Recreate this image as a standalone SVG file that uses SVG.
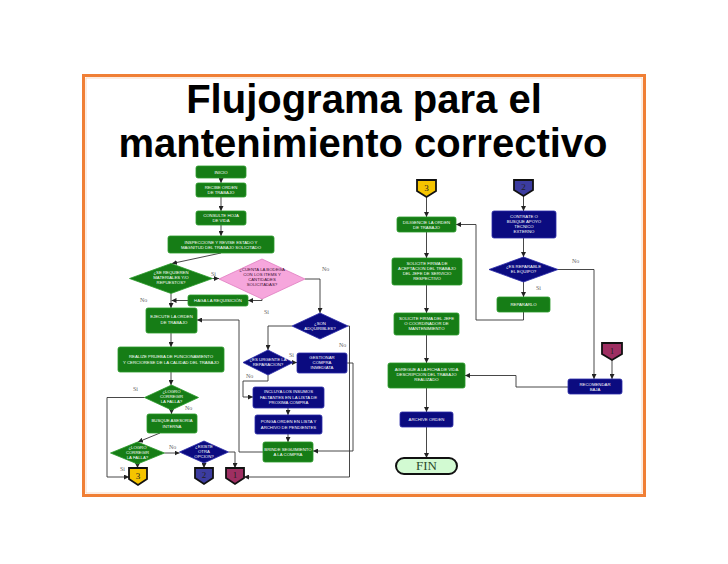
<svg xmlns="http://www.w3.org/2000/svg" width="728" height="564" viewBox="0 0 728 564">
<defs>
<marker id="ah" markerUnits="userSpaceOnUse" markerWidth="5" markerHeight="5" viewBox="0 0 10 10" refX="10" refY="5" orient="auto">
<path d="M0,0 L10,5 L0,10 z" fill="#222"/>
</marker>
<style>
.t{font-family:"Liberation Sans",Arial,sans-serif;font-size:4.3px;fill:#fff;text-anchor:middle}
.td{font-family:"Liberation Sans",Arial,sans-serif;font-size:4.3px;fill:#3a1030;text-anchor:middle}
.g{fill:#167d16;stroke:#2a9a2a;stroke-width:0.8}
.n{fill:#0b0b80;stroke:#2b2ba8;stroke-width:0.8}
.p{fill:#f6a6dc;stroke:#e07cc0;stroke-width:0.8}
.e{fill:none;stroke:#333;stroke-width:0.9;marker-end:url(#ah)}
.l{fill:none;stroke:#333;stroke-width:0.9}
.lb{font-family:"Liberation Serif","Times New Roman",serif;font-size:6px;fill:#666}
.cn{stroke:#111;stroke-width:1.8}
.ct{font-family:"Liberation Serif","Times New Roman",serif;font-size:9px;text-anchor:middle;fill:#222}
.title{font-family:"Liberation Sans",Arial,sans-serif;font-size:40px;font-weight:bold;fill:#000;text-anchor:middle}
</style>
</defs>
<rect width="728" height="564" fill="#fff"/>
<rect x="83.5" y="75.5" width="561" height="420" fill="#fff" stroke="#f07f35" stroke-width="3"/>
<rect x="86" y="78" width="556" height="415" fill="none" stroke="#f6c09a" stroke-width="0.6"/>
<text class="title" x="364" y="113">Flujograma para el</text>
<text class="title" x="363" y="157">mantenimiento correctivo</text>

<g id="connectors">
<path class="e" d="M221,178 V183"/>
<path class="e" d="M221,197 V211"/>
<path class="e" d="M221,225 V236"/>
<path class="e" d="M221,253 L172,263.5"/>
<path class="e" d="M212.5,278.5 H219"/>
<path class="e" d="M305,279 H320 V313"/>
<path class="e" d="M262,299 V300.5 H248"/>
<path class="e" d="M188,300.5 H171.5"/>
<path class="e" d="M171,293.5 V308"/>
<path class="e" d="M171,333 V347"/>
<path class="e" d="M171,372 V385"/>
<path class="e" d="M144.5,397.5 H107 V477 H129"/>
<path class="e" d="M171.5,410 V414"/>
<path class="e" d="M160,433 L138,442"/>
<path class="e" d="M164.5,453 H179.5"/>
<path class="e" d="M137.5,464 V468"/>
<path class="e" d="M204,463 V468"/>
<path class="e" d="M228.5,452 H235 V468"/>
<path class="e" d="M263,452 H239 V320 H197"/>
<path class="e" d="M292,326 H268 V350"/>
<path class="e" d="M293,362.5 H297"/>
<path class="e" d="M268,375 V381 H243 V397 H253"/>
<path class="e" d="M288,408 V415"/>
<path class="e" d="M288,434 V442"/>
<path class="e" d="M347,363 H353 V451 H313"/>
<path class="e" d="M348,326 H349.5 V477 H244"/>
<path class="e" d="M426.5,197 V217"/>
<path class="e" d="M426.5,232 V258"/>
<path class="e" d="M426.5,285 V313"/>
<path class="e" d="M426.5,335 V363"/>
<path class="e" d="M426.5,388 V412"/>
<path class="e" d="M426.5,427 V458"/>
<path class="e" d="M523.5,196 V211"/>
<path class="e" d="M523.5,238 V257"/>
<path class="e" d="M523.5,282 V297"/>
<path class="e" d="M558,269.5 H594 V379"/>
<path class="e" d="M523.5,312 V320 H476 V224.5 H456"/>
<path class="e" d="M612,360 V379"/>
<path class="e" d="M568,387 H516 V375.5 H465"/>
<text class="lb" x="211" y="276">Si</text>
<text class="lb" x="322" y="271">No</text>
<text class="lb" x="264" y="314">Si</text>
<text class="lb" x="140" y="302">No</text>
<text class="lb" x="133" y="391">Si</text>
<text class="lb" x="185" y="410">No</text>
<text class="lb" x="169" y="449">No</text>
<text class="lb" x="120" y="471">Si</text>
<text class="lb" x="289" y="357">Si</text>
<text class="lb" x="246" y="378">No</text>
<text class="lb" x="339" y="347">No</text>
<text class="lb" x="536" y="290">Si</text>
<text class="lb" x="572" y="263">No</text>
</g>

<g id="inicio"><rect class="g" x="196" y="166" width="50" height="12" rx="2"/><text class="t" x="221" y="173.5">INICIO</text></g>
<g id="recibe"><rect class="g" x="196" y="183" width="50" height="14" rx="2"/><text class="t" x="221" y="189">RECIBE ORDEN</text><text class="t" x="221" y="194">DE TRABAJO</text></g>
<g id="consulte"><rect class="g" x="196" y="211" width="50" height="14" rx="2"/><text class="t" x="221" y="217">CONSULTE HOJA</text><text class="t" x="221" y="222">DE VIDA</text></g>
<g id="inspeccione"><rect class="g" x="168" y="236" width="106" height="17" rx="2"/><text class="t" x="221" y="243.5">INSPECCIONE Y REVISE ESTADO Y</text><text class="t" x="221" y="248.5">MAGNITUD DEL TRABAJO SOLICITADO</text></g>
<g id="requieren"><polygon class="g" points="129.5,278.5 171,263.5 212.5,278.5 171,293.5"/><text class="t" x="171" y="274">¿SE REQUIEREN</text><text class="t" x="171" y="279">MATERIALES Y/O</text><text class="t" x="171" y="284">REPUESTOS?</text></g>
<g id="bodega"><polygon class="p" points="219,279 262,259 305,279 262,299"/><text class="td" x="262" y="271">¿CUENTA LA BODEGA</text><text class="td" x="262" y="276">CON LOS ITEMS Y</text><text class="td" x="262" y="281">CANTIDADES</text><text class="td" x="262" y="286">SOLICITADAS?</text></g>
<g id="requisicion"><rect class="g" x="188" y="295" width="60" height="11" rx="2"/><text class="t" x="218" y="302">HAGA LA REQUISICIÓN</text></g>
<g id="ejecute"><rect class="g" x="146" y="308" width="51" height="25" rx="2"/><text class="t" x="171.5" y="318">EJECUTE LA ORDEN</text><text class="t" x="174" y="323.5">DE TRABAJO</text></g>
<g id="realize"><rect class="g" x="118" y="347" width="106" height="25" rx="2"/><text class="t" x="171" y="358">REALIZE PRUEBA DE FUNCIONAMIENTO</text><text class="t" x="171" y="363.5">Y CERCIORESE DE LA CALIDAD DEL TRABAJO</text></g>
<g id="logro1"><polygon class="g" points="144.5,397.5 171.5,385 198.5,397.5 171.5,410"/><text class="t" x="171.5" y="393">¿LOGRO</text><text class="t" x="171.5" y="398">CORREGIR</text><text class="t" x="171.5" y="403">LA FALLA?</text></g>
<g id="busque"><rect class="g" x="147" y="414" width="50" height="19" rx="2"/><text class="t" x="172" y="422">BUSQUE ASESORIA</text><text class="t" x="172" y="427.5">INTERNA</text></g>
<g id="logro2"><polygon class="g" points="110.5,453 137.5,442 164.5,453 137.5,464"/><text class="t" x="137.5" y="448.5">¿LOGRO</text><text class="t" x="137.5" y="453.5">CORREGIR</text><text class="t" x="137.5" y="458.5">LA FALLA?</text></g>
<g id="existe"><polygon class="n" points="179.5,452 204,441 228.5,452 204,463"/><text class="t" x="204" y="447.5">¿EXISTE</text><text class="t" x="204" y="452.5">OTRA</text><text class="t" x="204" y="457.5">OPCION?</text></g>
<g id="adquiribles"><polygon class="n" points="292,326 320,313 348,326 320,339"/><text class="t" x="320" y="324.5">¿SON</text><text class="t" x="320" y="329.5">ADQUIRIBLES?</text></g>
<g id="urgente"><polygon class="n" points="243,362.5 268,350 293,362.5 268,375"/><text class="t" x="268" y="361">¿ES URGENTE LA</text><text class="t" x="268" y="366">REPARACION?</text></g>
<g id="gestionar"><rect class="n" x="297" y="353" width="50" height="20" rx="2"/><text class="t" x="322" y="359">GESTIONAR</text><text class="t" x="322" y="364">COMPRA</text><text class="t" x="322" y="369">INMEDIATA</text></g>
<g id="incluya"><rect class="n" x="253" y="387" width="71" height="21" rx="2"/><text class="t" x="288.5" y="393">INCLUYA LOS INSUMOS</text><text class="t" x="288.5" y="398.5">FALTANTES EN LA LISTA DE</text><text class="t" x="288.5" y="404">PROXIMA COMPRA</text></g>
<g id="ponga"><rect class="n" x="255" y="415" width="67" height="19" rx="2"/><text class="t" x="288.5" y="423">PONGA ORDEN EN LISTA Y</text><text class="t" x="288.5" y="428.5">ARCHIVO DE PENDIENTES</text></g>
<g id="brinde"><rect class="g" x="263" y="442" width="50" height="20" rx="2"/><text class="t" x="288" y="450.5">BRINDE SEGUIMIENTO</text><text class="t" x="288" y="456">A LA COMPRA</text></g>
<g id="c3a"><path class="cn" fill="#f5c400" d="M129,468 H147 V479 L138,485 L129,479 Z"/><text class="ct" x="138" y="479">3</text></g>
<g id="c2a"><path class="cn" fill="#3c3ca0" d="M195,468 H213 V478 L204,484 L195,478 Z"/><text class="ct" x="204" y="478">2</text></g>
<g id="c1a"><path class="cn" fill="#9e2f62" d="M226,468 H244 V478 L235,484 L226,478 Z"/><text class="ct" x="235" y="478">1</text></g>

<g id="c3b"><path class="cn" fill="#f5c400" d="M417,180 H436 V191 L426.5,197 L417,191 Z"/><text class="ct" x="426.5" y="191">3</text></g>
<g id="diligencie"><rect class="g" x="397" y="217" width="59" height="15" rx="2"/><text class="t" x="426.5" y="223.5">DILIGENCIE LA ORDEN</text><text class="t" x="426.5" y="228.5">DE TRABAJO</text></g>
<g id="solicite1"><rect class="g" x="392" y="258" width="70" height="27" rx="2"/><text class="t" x="427" y="265">SOLICITE FIRMA DE</text><text class="t" x="427" y="270">ACEPTACION DEL TRABAJO</text><text class="t" x="427" y="275">DEL JEFE DE SERVICIO</text><text class="t" x="427" y="280">RESPECTIVO</text></g>
<g id="solicite2"><rect class="g" x="394" y="313" width="65" height="22" rx="2"/><text class="t" x="426.5" y="319.5">SOLICITE FIRMA DEL JEFE</text><text class="t" x="426.5" y="324.5">O COORDINADOR DE</text><text class="t" x="426.5" y="329.5">MANTENIMIENTO</text></g>
<g id="agregue"><rect class="g" x="388" y="363" width="77" height="25" rx="2"/><text class="t" x="426.5" y="370.5">AGREGUE A LA FICHA DE VIDA</text><text class="t" x="426.5" y="375.5">DESCRIPCION DEL TRABAJO</text><text class="t" x="426.5" y="380.5">REALIZADO</text></g>
<g id="archive"><rect class="n" x="400" y="412" width="53" height="15" rx="2"/><text class="t" x="426.5" y="421">ARCHIVE ORDEN</text></g>
<g id="fin"><rect x="396" y="458" width="61" height="16" rx="8" fill="#d2fad2" stroke="#111" stroke-width="2"/><text x="426.5" y="470" font-family="'Liberation Serif','Times New Roman',serif" font-size="13" fill="#2a4a2a" text-anchor="middle">FIN</text></g>

<g id="c2b"><path class="cn" fill="#3c3ca0" d="M514,180 H533 V190 L523.5,196 L514,190 Z"/><text class="ct" x="523.5" y="190">2</text></g>
<g id="contrate"><rect class="n" x="492" y="211" width="64" height="27" rx="2"/><text class="t" x="524" y="218">CONTRATE O</text><text class="t" x="524" y="223">BUSQUE APOYO</text><text class="t" x="524" y="228">TECNICO</text><text class="t" x="524" y="233">EXTERNO</text></g>
<g id="reparable"><polygon class="n" points="489,269.5 523.5,257 558,269.5 523.5,282"/><text class="t" x="523.5" y="268">¿ES REPARABLE</text><text class="t" x="523.5" y="273">EL EQUIPO?</text></g>
<g id="repararlo"><rect class="g" x="497" y="297" width="53" height="15" rx="2"/><text class="t" x="523.5" y="306">REPARARLO</text></g>
<g id="c1b"><path class="cn" fill="#9e2f62" d="M602,343 H622 V354 L612,360 L602,354 Z"/><text class="ct" x="612" y="354">1</text></g>
<g id="recomendar"><rect class="n" x="568" y="379" width="54" height="15" rx="2"/><text class="t" x="595" y="385.5">RECOMENDAR</text><text class="t" x="595" y="390.5">BAJA</text></g>
</svg>
